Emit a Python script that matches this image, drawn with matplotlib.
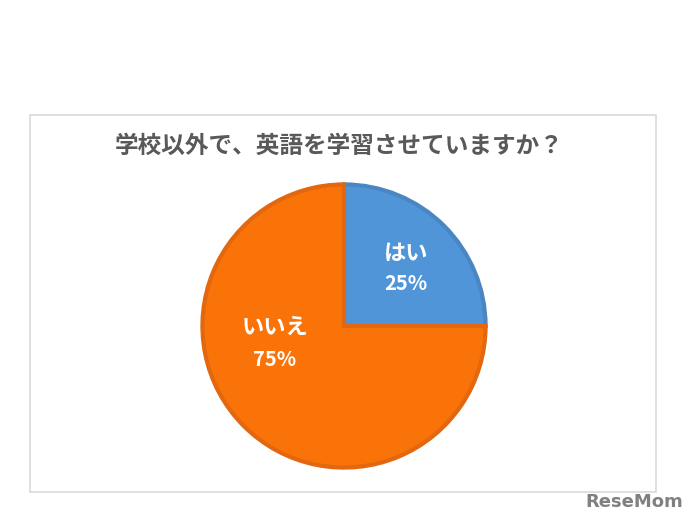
import matplotlib
matplotlib.use("Agg")
import matplotlib.pyplot as plt
from matplotlib.patches import Rectangle

plt.rcParams['font.family'] = ['Noto Sans CJK JP', 'DejaVu Sans']

title = "学校以外で、英語を学習させていますか？"
categories = ["はい", "いいえ"]
values = [25, 75]
fill_colors = ["#4F95D8", "#F97308"]
edge_colors = ["#4A86C2", "#E2670E"]

W, H = 697, 526
fig = plt.figure(figsize=(W / 100, H / 100), dpi=100)
fig.patch.set_facecolor("white")

# chart frame
fig.patches.append(Rectangle((30 / W, 1 - 492 / H), 626 / W, 377 / H,
                             transform=fig.transFigure, fill=False,
                             edgecolor="#D9D9D9", linewidth=1.2))

fig.text(339 / W, 1 - 146 / H, title, ha="center", va="center",
         fontsize=17, fontweight="bold", color="#595959")

cx, cy, r = 344, 326, 143
ax = fig.add_axes([(cx - r) / W, 1 - (cy + r) / H, 2 * r / W, 2 * r / H])
wedges, _ = ax.pie(values, startangle=90, counterclock=False,
                   colors=fill_colors, radius=0.99,
                   wedgeprops=dict(linewidth=3))
for w, ec in zip(wedges, edge_colors):
    w.set_edgecolor(ec)
ax.set_xlim(-1, 1)
ax.set_ylim(-1, 1)
ax.set_aspect("equal")
ax.axis("off")

label_pos = [(406, 253, 284), (275, 327, 359)]
for cat, v, (x, y1, y2) in zip(categories, values, label_pos):
    fig.text(x / W, 1 - y1 / H, cat, ha="center", va="center",
             fontsize=16, fontweight="bold", color="white")
    fig.text(x / W, 1 - y2 / H, f"{v}%", ha="center", va="center",
             fontsize=14.5, fontweight="bold", color="white")

fig.text(634 / W, 1 - 502 / H, "ReseMom", ha="center", va="center",
         fontsize=13, fontweight="bold", color="#808080",
         family=["DejaVu Sans"])

fig.savefig("out.png", dpi=100)
